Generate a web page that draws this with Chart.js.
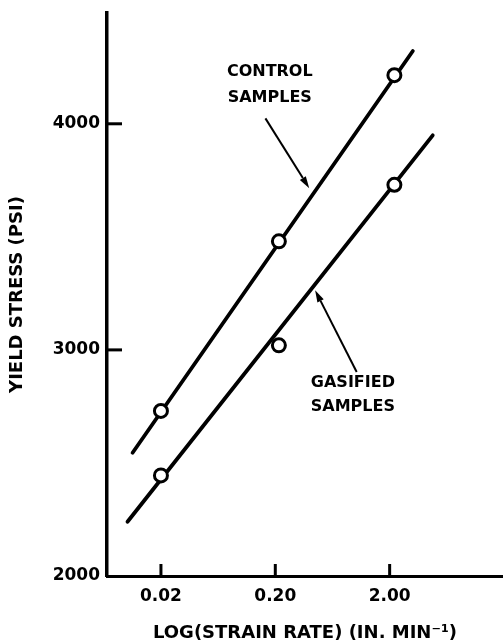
<!DOCTYPE html>
<html><head><meta charset="utf-8">
<script src="https://cdn.jsdelivr.net/npm/chart.js@4/dist/chart.umd.min.js"></script>
<style>html,body{margin:0;padding:0;background:#fff;overflow:hidden}</style>
</head><body>
<canvas id="c" width="503" height="644"></canvas>
<script>
// ---- data ----
const xTickValues = [0.02, 0.2, 2.0];
const xTickLabels = ['0.02', '0.20', '2.00'];
const yTickValues = [2000, 3000, 4000];
const yTickLabels = ['2000', '3000', '4000'];
const strainRate = [0.02, 0.215, 2.2];
const controlStress = [2730, 3480, 4215];
const gasifiedStress = [2445, 3020, 3730];
const controlFitX = [0.0113, 3.19];
const controlFitY = [2545, 4322];
const gasifiedFitX = [0.0102, 4.76];
const gasifiedFitY = [2240, 3949];
const xTitle = 'LOG(STRAIN RATE) (IN. MIN⁻¹)';
const yTitle = 'YIELD STRESS (PSI)';
const controlLabel = ['CONTROL', 'SAMPLES'];
const gasifiedLabel = ['GASIFIED', 'SAMPLES'];
// annotation anchors in data units
const controlLabelAnchor = {x: 0.179, y: [4228, 4113]};
const gasifiedLabelAnchor = {x: 0.954, y: [2853, 2747]};
const controlArrow = {from: [0.164, 4024], to: [0.396, 3715]};
const gasifiedArrow = {from: [1.03, 2902], to: [0.446, 3264]};

const FONT = '"DejaVu Sans", sans-serif';
const pts = (xs, ys) => xs.map((x, i) => ({x, y: ys[i]}));

const annot = {
  id: 'annot',
  afterDraw(chart) {
    const {ctx, scales: {x, y}} = chart;
    ctx.save();
    ctx.strokeStyle = '#000';
    ctx.fillStyle = '#000';
    // inside tick marks
    ctx.lineWidth = 3;
    yTickValues.forEach(v => {
      if (v === y.min) return;
      const py = y.getPixelForValue(v);
      ctx.beginPath(); ctx.moveTo(x.left, py); ctx.lineTo(x.left + 15, py); ctx.stroke();
    });
    xTickValues.forEach(v => {
      const px = x.getPixelForValue(v);
      ctx.beginPath(); ctx.moveTo(px, y.bottom); ctx.lineTo(px, y.bottom - 12); ctx.stroke();
    });
    // labels
    ctx.font = 'bold 16px ' + FONT;
    ctx.textAlign = 'center';
    ctx.textBaseline = 'middle';
    controlLabel.forEach((t, i) => ctx.fillText(t, x.getPixelForValue(controlLabelAnchor.x), y.getPixelForValue(controlLabelAnchor.y[i])));
    gasifiedLabel.forEach((t, i) => ctx.fillText(t, x.getPixelForValue(gasifiedLabelAnchor.x), y.getPixelForValue(gasifiedLabelAnchor.y[i])));
    // arrows
    const arrow = (a) => {
      const x1 = x.getPixelForValue(a.from[0]), y1 = y.getPixelForValue(a.from[1]);
      const x2 = x.getPixelForValue(a.to[0]), y2 = y.getPixelForValue(a.to[1]);
      const ang = Math.atan2(y2 - y1, x2 - x1);
      const L = 12, W = 3.5;
      ctx.lineWidth = 2;
      ctx.beginPath(); ctx.moveTo(x1, y1);
      ctx.lineTo(x2 - L * Math.cos(ang), y2 - L * Math.sin(ang)); ctx.stroke();
      ctx.beginPath();
      ctx.moveTo(x2, y2);
      ctx.lineTo(x2 - L * Math.cos(ang) + W * Math.sin(ang), y2 - L * Math.sin(ang) - W * Math.cos(ang));
      ctx.lineTo(x2 - L * Math.cos(ang) - W * Math.sin(ang), y2 - L * Math.sin(ang) + W * Math.cos(ang));
      ctx.closePath(); ctx.fill();
    };
    arrow(controlArrow);
    arrow(gasifiedArrow);
    // y title, centred on the plot area
    ctx.translate(17, (y.top + y.bottom) / 2);
    ctx.rotate(-Math.PI / 2);
    ctx.font = 'bold 18px ' + FONT;
    ctx.fillText(yTitle, 0, 0);
    ctx.restore();
  }
};

new Chart(document.getElementById('c'), {
  type: 'scatter',
  data: {
    datasets: [
      {data: pts(strainRate, controlStress), showLine: false, pointRadius: 6.5, pointBorderWidth: 3,
       pointBackgroundColor: '#fff', pointBorderColor: '#000', order: 0},
      {data: pts(strainRate, gasifiedStress), showLine: false, pointRadius: 6.5, pointBorderWidth: 3,
       pointBackgroundColor: '#fff', pointBorderColor: '#000', order: 0},
      {data: pts(controlFitX, controlFitY), showLine: true, pointRadius: 0, borderColor: '#000',
       borderWidth: 3.8, borderCapStyle: 'round', order: 1},
      {data: pts(gasifiedFitX, gasifiedFitY), showLine: true, pointRadius: 0, borderColor: '#000',
       borderWidth: 3.8, borderCapStyle: 'round', order: 1}
    ]
  },
  options: {
    responsive: false,
    animation: false,
    layout: {autoPadding: false, padding: {top: 13, right: 0, left: 0, bottom: 0}},
    plugins: {legend: {display: false}, tooltip: {enabled: false}},
    scales: {
      x: {
        type: 'logarithmic', min: 0.00675, max: 19.6,
        afterBuildTicks: s => { s.ticks = xTickValues.map(v => ({value: v})); },
        afterFit: s => { s.height = 68; s.paddingRight = 0; s.paddingLeft = 0; },
        grid: {display: false, drawTicks: false},
        border: {display: true, color: '#000', width: 3},
        ticks: {color: '#000', padding: 10, maxRotation: 0, autoSkip: false,
          font: {family: FONT, weight: 'bold', size: 17},
          callback: v => xTickLabels[xTickValues.indexOf(v)]},
        title: {display: true, text: xTitle, color: '#000', padding: {top: 0, bottom: 0},
          font: {family: FONT, weight: 'bold', size: 18}}
      },
      y: {
        min: 2000, max: 4490,
        afterBuildTicks: s => { s.ticks = yTickValues.map(v => ({value: v})); },
        afterFit: s => { s.width = 107; s.paddingTop = 0; s.paddingBottom = 0; },
        grid: {display: false, drawTicks: false},
        border: {display: true, color: '#000', width: 3.5},
        ticks: {color: '#000', padding: 7, autoSkip: false,
          font: {family: FONT, weight: 'bold', size: 17},
          callback: v => yTickLabels[yTickValues.indexOf(v)]}
      }
    }
  },
  plugins: [annot]
});
</script>
</body></html>
